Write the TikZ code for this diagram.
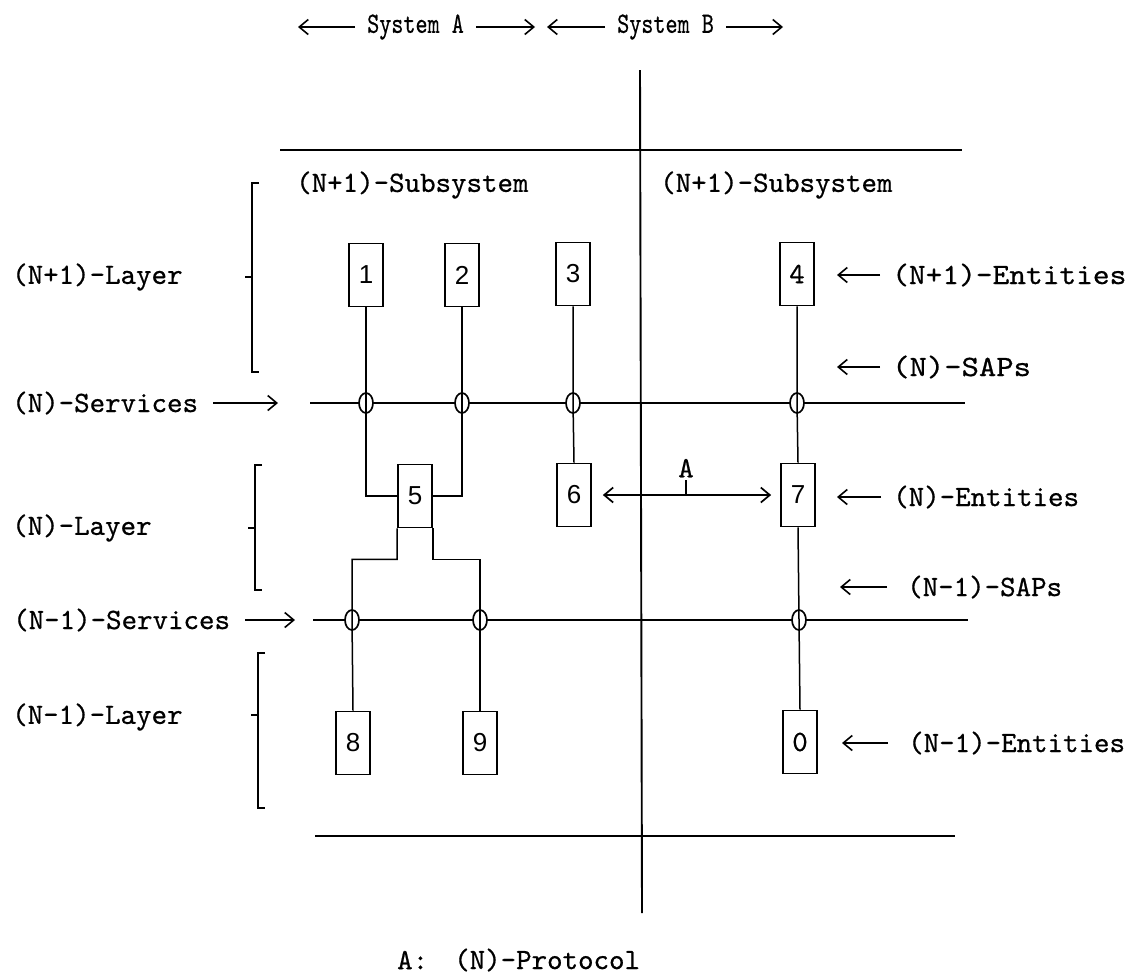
\documentclass[tikz,border=0pt]{standalone}
\usepackage{fontspec}
\setsansfont{Liberation Sans}
\setmonofont{lmmono10-regular.otf}[FakeBold=0.6]
\usepackage{graphicx}
\usetikzlibrary{shapes.geometric,arrows.meta}
\begin{document}
\begin{tikzpicture}[x=1pt,y=-1pt,
  every node/.style={font=\ttfamily\fontsize{29.5}{32}\selectfont},
  lbl/.style={anchor=west,inner sep=0pt},
  ent/.style={draw,fill=white,line width=1.7pt,minimum width=34pt,minimum height=63pt,inner sep=0pt,font=\sffamily\fontsize{26}{28}\selectfont},
  entt/.style={ent,font=\ttfamily\fontsize{29.5}{32}\selectfont},
  sap/.style={draw,fill=white,ellipse,line width=1.7pt,minimum width=14pt,minimum height=20pt,inner sep=0pt},
  wire/.style={line width=1.5pt},
  frame/.style={line width=1.9pt},
  barb/.style={line width=1.6pt},
  ptr/.style={line width=1.6pt,-{Straight Barb[length=9pt,width=15pt]}},
  proto/.style={line width=1.7pt,{Straight Barb[length=9pt,width=15pt]}-{Straight Barb[length=9pt,width=15pt]}},
]
\fill[white] (0,0) rectangle (1134,978);
\useasboundingbox (0,0) rectangle (1134,978);

% frame lines
\coordinate (tl1) at (280,150); \coordinate (tl2) at (962,150);
\coordinate (bl1) at (315,836); \coordinate (bl2) at (955,836);
\coordinate (vt) at (640,70);  \coordinate (vb) at (642,913);
\draw[frame] (tl1) -- (tl2);
\draw[frame] (bl1) -- (bl2);
\draw[frame] (vt) -- (vb);

% service lines
\coordinate (nL) at (310,403); \coordinate (nR) at (965,403);
\coordinate (mL) at (313,620); \coordinate (mR) at (968,620);
\draw[frame] (nL) -- (nR);
\draw[frame] (mL) -- (mR);

% top labels
\node[lbl] (sa) at (367,27) {\scalebox{0.78}[1]{System A}};
\node[lbl] (sb) at (617,27) {\scalebox{0.78}[1]{System B}};
\coordinate (saL) at (298,27); \coordinate (saR) at (535,27);
\coordinate (sbL) at (547,27); \coordinate (sbR) at (783,27);
\draw[ptr,shorten <=12pt] (sa.west) -- (saL);
\draw[ptr,shorten <=12pt] (sa.east) -- (saR);
\draw[ptr,shorten <=12pt] (sb.west) -- (sbL);
\draw[ptr,shorten <=12pt] (sb.east) -- (sbR);

% subsystem labels
\node[lbl] (subA) at (296,185) {(N+1)-Subsystem};
\node[lbl] (subB) at (660,185) {(N+1)-Subsystem};

% layer labels and brackets
\node[lbl] (l1) at (12,277) {(N+1)-Layer};
\node[lbl] (l2) at (12,528) {(N)-Layer};
\node[lbl] (l3) at (12,717) {(N-1)-Layer};
\draw[barb] (259,183) -- (252,183) -- (252,372) -- (259,372) (245,277) -- (252,277);
\draw[barb] (262,465) -- (255,465) -- (255,590) -- (262,590) (248,528) -- (255,528);
\draw[barb] (265,653) -- (258,653) -- (258,808) -- (265,808) (251,715) -- (258,715);

% service labels
\node[lbl] (sv1) at (12,403) {(N)-Services};
\node[lbl] (sv2) at (13,620) {(N-1)-Services};
\coordinate (sv1p) at (278,403); \coordinate (sv2p) at (295,620);
\draw[ptr,shorten <=15pt] (sv1.east) -- (sv1p);
\draw[ptr,shorten <=15pt] (sv2.east) -- (sv2p);

% right labels
\node[lbl] (r1) at (892,275) {\scalebox{1.08}[1]{(N+1)-Entities}};
\node[lbl] (r2) at (892,367) {\scalebox{1.12}[1]{(N)-SAPs}};
\node[lbl] (r3) at (893,497) {(N)-Entities};
\node[lbl] (r4) at (907,587) {(N-1)-SAPs};
\node[lbl] (r5) at (908,743) {(N-1)-Entities};
\coordinate (r1p) at (837,275); \coordinate (r2p) at (837,367);
\coordinate (r3p) at (837,497); \coordinate (r4p) at (840,587);
\coordinate (r5p) at (842,743);
\draw[ptr,shorten <=12pt] (r1.west) -- (r1p);
\draw[ptr,shorten <=12pt] (r2.west) -- (r2p);
\draw[ptr,shorten <=12pt] (r3.west) -- (r3p);
\draw[ptr,shorten <=20pt] (r4.west) -- (r4p);
\draw[ptr,shorten <=20pt] (r5.west) -- (r5p);

% SAPs
\node[sap] (s1) at (366,403) {};
\node[sap] (s2) at (462,403) {};
\node[sap] (s3) at (573,403) {};
\node[sap] (s4) at (797,403) {};
\node[sap] (s5) at (352,620) {};
\node[sap] (s6) at (480,620) {};
\node[sap] (s7) at (799,620) {};

% entities
\node[ent] (b1) at (366,275) {1};
\node[ent] (b2) at (462,275) {2};
\node[ent] (b3) at (573,274) {3};
\node[entt] (b4) at (797,274) {4};
\node[ent] (b5) at (415,496) {5};
\node[ent] (b6) at (574,495) {6};
\node[ent] (b7) at (798,495) {7};
\node[ent] (b8) at (353,743) {8};
\node[ent] (b9) at (480,743) {9};
\node[entt] (b0) at (800,742) {0};

% wires
\draw[wire] (b1.south) -- (s1.center) |- (b5.west);
\draw[wire] (b2.south) -- (s2.center) |- (b5.east);
\draw[wire] (b3.south) -- (s3.center) -- (b6.north);
\draw[wire] (b4.south) -- (s4.center) -- (b7.north);
\draw[wire] (b7.south) -- (s7.center) -- (b0.north);
\draw[wire] (b5.south west) -- ++(0,31) -| (s5.center) -- (b8.north);
\draw[wire] (b5.south east) -- ++(0,31) -| (s6.center) -- (b9.north);

% protocol
\draw[proto,shorten <=11pt,shorten >=9pt] (b6.east) -- coordinate[midway] (am) (b7.west);
\draw[wire] (am) -- ++(0,-15) node[above,inner sep=2pt] (alab) {A};

% legend
\node[lbl] (lgA) at (397,960) {A:};
\node[lbl] (lgP) at (454,960) {(N)-Protocol};
\end{tikzpicture}
\end{document}
